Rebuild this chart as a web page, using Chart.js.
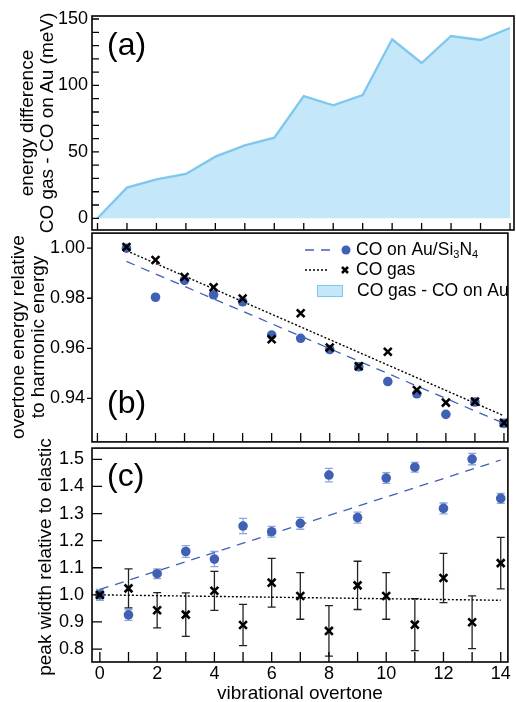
<!DOCTYPE html>
<html>
<head>
<meta charset="utf-8">
<script src="https://cdn.jsdelivr.net/npm/chart.js@4.4.1/dist/chart.umd.min.js"></script>
<style>
  body { margin: 0; background: #fff; }
  #wrap { position: relative; width: 516px; height: 702px; overflow: hidden; }
  canvas { position: absolute; left: 0; }
  .ytitle {
    position: absolute;
    font: 19px "Liberation Sans", Arial, Helvetica, sans-serif;
    line-height: 20px;
    color: #000;
    text-align: center;
    white-space: nowrap;
    transform: translate(-50%, -50%) rotate(-90deg);
  }
</style>
</head>
<body>
<div id="wrap">
  <canvas id="chartA" width="516" height="232" style="top:0px"></canvas>
  <canvas id="chartB" width="516" height="225" style="top:225px"></canvas>
  <canvas id="chartC" width="516" height="262" style="top:440px"></canvas>
  <div class="ytitle" style="left:37px; top:123px">energy difference<br>CO gas - CO on Au (meV)</div>
  <div class="ytitle" style="left:28px; top:337px">overtone energy relative<br>to harmonic energy</div>
  <div class="ytitle" style="left:45px; top:557px">peak width relative to elastic</div>
</div>
<script>
// panel (a): energy difference gas - Au
const overtoneA = [0, 1, 2, 3, 4, 5, 6, 7, 8, 9, 10, 11, 12, 13, 14]
const energyDiff = [0, 23.1, 29.3, 33.4, 46.4, 54.9, 60.7, 92.0, 85.0, 92.8, 134.7, 116.9, 137.2, 134.2, 143.2]

// panel (b): overtone energy / harmonic energy
const overtoneB = [1, 2, 3, 4, 5, 6, 7, 8, 9, 10, 11, 12, 13, 14]
const ratioAu = [1.000, 0.9804, 0.9872, 0.9814, 0.9786, 0.9653, 0.9640, 0.9595, 0.9526, 0.9467, 0.9418, 0.9336, 0.9385, 0.9300]
const ratioGas = [1.0005, 0.9953, 0.9885, 0.9844, 0.9799, 0.9636, 0.9740, 0.9603, 0.9528, 0.9586, 0.9433, 0.9383, 0.9387, 0.9302]
const fitXB = [1, 14]
const fitAuB = [0.9947, 0.9300]
const fitGasB = [0.9990, 0.9330]

// panel (c): peak width / elastic
const overtoneC = [0, 1, 2, 3, 4, 5, 6, 7, 8, 9, 10, 11, 12, 13, 14]
const widthAu = [1.000, 0.926, 1.078, 1.160, 1.132, 1.254, 1.233, 1.264, 1.442, 1.285, 1.431, 1.471, 1.319, 1.501, 1.356]
const errAu = [0.02, 0.02, 0.018, 0.022, 0.028, 0.028, 0.02, 0.022, 0.025, 0.02, 0.02, 0.018, 0.02, 0.021, 0.018]
const widthGas = [1.000, 1.024, 0.943, 0.927, 1.015, 0.889, 1.045, 0.996, 0.867, 1.035, 0.996, 0.890, 1.062, 0.899, 1.117]
const errGas = [0.012, 0.072, 0.065, 0.08, 0.072, 0.076, 0.09, 0.086, 0.093, 0.089, 0.086, 0.096, 0.091, 0.097, 0.095]
const fitXC = [0, 14]
const fitAuC = [1.020, 1.4976]
const fitGasC = [1.000, 0.980]

const FONT = '"Liberation Sans", Arial, Helvetica, sans-serif'
const BLUE = 'rgb(64, 96, 180)'
const BLUE_ERR = 'rgb(140, 165, 220)'
const FILL = 'rgb(196, 231, 249)'
const FILL_LINE = 'rgb(128, 199, 238)'

Chart.defaults.font.family = FONT
Chart.defaults.color = '#000'

const pts = (xs, ys) => xs.map((x, i) => ({ x: x, y: ys[i] }))

// frame box, inside/outside tick marks and the panel letter
const framePlugin = {
  id: 'frame',
  afterDraw(chart, args, opts) {
    const { ctx, chartArea: a, scales } = chart
    ctx.save()
    ctx.strokeStyle = '#000'
    ctx.lineWidth = 1.3
    ctx.beginPath()
    scales.x.ticks.forEach(t => {
      const px = scales.x.getPixelForValue(t.value)
      ctx.moveTo(px, a.bottom)
      ctx.lineTo(px, a.bottom - opts.xTick)
    })
    scales.y.ticks.forEach(t => {
      const py = scales.y.getPixelForValue(t.value)
      ctx.moveTo(a.left, py)
      ctx.lineTo(a.left + (opts.yOut ? -opts.yTick : opts.yTick), py)
    })
    ctx.stroke()
    ctx.lineWidth = 1.6
    ctx.strokeRect(a.left, a.top, a.right - a.left, a.bottom - a.top)
    ctx.fillStyle = '#000'
    ctx.font = '32px ' + FONT
    ctx.textBaseline = 'middle'
    ctx.fillText(opts.label, a.left + 15, opts.labelY)
    ctx.restore()
  }
}

function xAxis(min, max) {
  return {
    type: 'linear', min: min, max: max,
    grid: { display: false, drawTicks: false },
    border: { display: false },
    ticks: { display: false, stepSize: 1, includeBounds: false, autoSkip: false },
    afterFit(s) { s.height = 0; s.paddingLeft = 0; s.paddingRight = 0 }
  }
}

function yAxis(min, max, step, fmt, tickPad) {
  return {
    type: 'linear', min: min, max: max,
    grid: { display: false, drawTicks: false },
    border: { display: false },
    ticks: { stepSize: step, includeBounds: false, autoSkip: false, padding: tickPad, font: { size: 18 }, callback: fmt },
    afterFit(s) { s.width = 92; s.paddingTop = 0; s.paddingBottom = 0 }
  }
}

const common = {
  responsive: false,
  animation: false,
  devicePixelRatio: 1,
}

// (a)
new Chart(document.getElementById('chartA'), {
  type: 'line',
  data: {
    datasets: [{
      data: pts(overtoneA, energyDiff),
      fill: 'origin',
      backgroundColor: FILL,
      borderColor: FILL_LINE,
      borderWidth: 2.3,
      pointRadius: 0,
      tension: 0
    }]
  },
  options: {
    ...common,
    layout: { padding: { top: 16, bottom: 2, left: 0, right: 2 } },
    plugins: {
      legend: { display: false }, tooltip: { enabled: false },
      frame: { xTick: 7, yTick: 7, yOut: false, label: '(a)', labelY: 46 }
    },
    scales: {
      x: xAxis(-0.187, 14.136),
      y: yAxis(-8.8, 152.26, 10, v => (v % 50 === 0 ? v : ''), 4)
    }
  },
  plugins: [framePlugin]
})

// legend inside panel (b)
const legendPlugin = {
  id: 'insideLegend',
  afterDraw(chart) {
    const ctx = chart.ctx
    ctx.save()
    ctx.textBaseline = 'middle'
    ctx.fillStyle = '#000'
    const f = '17.5px ' + FONT
    const fs = '11px ' + FONT
    // row 1: CO on Au/Si3N4
    ctx.strokeStyle = BLUE
    ctx.lineWidth = 1.3
    ctx.setLineDash([9, 7])
    ctx.beginPath(); ctx.moveTo(305, 25); ctx.lineTo(332, 25); ctx.stroke()
    ctx.setLineDash([])
    ctx.fillStyle = BLUE
    ctx.beginPath(); ctx.arc(346, 25, 4.5, 0, Math.PI * 2); ctx.fill()
    ctx.fillStyle = '#000'
    let x = 356
    const parts = [['CO on Au/Si', f, 0], ['3', fs, 5], ['N', f, 0], ['4', fs, 5]]
    parts.forEach(p => {
      ctx.font = p[1]
      ctx.fillText(p[0], x, 25 + p[2])
      x += ctx.measureText(p[0]).width
    })
    // row 2: CO gas
    ctx.strokeStyle = '#000'
    ctx.lineWidth = 1.4
    ctx.setLineDash([2, 2])
    ctx.beginPath(); ctx.moveTo(305, 45); ctx.lineTo(329, 45); ctx.stroke()
    ctx.setLineDash([])
    ctx.lineWidth = 2.5
    ctx.beginPath()
    ctx.moveTo(342, 42); ctx.lineTo(348, 48)
    ctx.moveTo(348, 42); ctx.lineTo(342, 48)
    ctx.stroke()
    ctx.font = f
    ctx.fillText('CO gas', 356, 45)
    // row 3: filled difference
    ctx.fillStyle = FILL
    ctx.fillRect(317, 60, 26, 12)
    ctx.strokeStyle = FILL_LINE
    ctx.lineWidth = 1
    ctx.strokeRect(317.5, 60.5, 25, 11)
    ctx.fillStyle = '#000'
    ctx.fillText('CO gas - CO on Au', 357, 66)
    ctx.restore()
  }
}

// (b)
new Chart(document.getElementById('chartB'), {
  type: 'scatter',
  data: {
    datasets: [
      { data: pts(overtoneB, ratioGas), pointStyle: 'crossRot', pointRadius: 5.5, borderColor: '#000', borderWidth: 2.6 },
      { data: pts(overtoneB, ratioAu), pointStyle: 'circle', pointRadius: 4.8, backgroundColor: BLUE, borderWidth: 0 },
      { data: pts(fitXB, fitGasB), showLine: true, pointRadius: 0, borderColor: '#000', borderWidth: 1.4, borderDash: [2, 2] },
      { data: pts(fitXB, fitAuB), showLine: true, pointRadius: 0, borderColor: BLUE, borderWidth: 1.3, borderDash: [9, 7] }
    ]
  },
  options: {
    ...common,
    layout: { padding: { top: 5, bottom: 3, left: 0, right: 2 } },
    plugins: {
      legend: { display: false }, tooltip: { enabled: false },
      frame: { xTick: 9, yTick: 5, yOut: true, label: '(b)', labelY: 179 }
    },
    scales: {
      x: xAxis(-0.187, 14.136),
      y: yAxis(0.92258, 1.00604, 0.02, v => v.toFixed(2), 7)
    }
  },
  plugins: [framePlugin, legendPlugin]
})

// error bars for panel (c)
const errorBarPlugin = {
  id: 'errorBars',
  beforeDatasetsDraw(chart) {
    const { ctx, scales: { x, y } } = chart
    const sets = [
      { ys: widthAu, err: errAu, color: BLUE_ERR },
      { ys: widthGas, err: errGas, color: '#222' }
    ]
    ctx.save()
    ctx.lineWidth = 1.3
    sets.forEach(s => {
      ctx.strokeStyle = s.color
      ctx.beginPath()
      s.ys.forEach((v, i) => {
        const px = x.getPixelForValue(overtoneC[i])
        const top = y.getPixelForValue(v + s.err[i])
        const bot = y.getPixelForValue(v - s.err[i])
        ctx.moveTo(px, top); ctx.lineTo(px, bot)
        ctx.moveTo(px - 4, top); ctx.lineTo(px + 4, top)
        ctx.moveTo(px - 4, bot); ctx.lineTo(px + 4, bot)
      })
      ctx.stroke()
    })
    ctx.restore()
  }
}

// (c)
new Chart(document.getElementById('chartC'), {
  type: 'scatter',
  data: {
    datasets: [
      { data: pts(overtoneC, widthGas), pointStyle: 'crossRot', pointRadius: 5.5, borderColor: '#000', borderWidth: 2.6 },
      { data: pts(overtoneC, widthAu), pointStyle: 'circle', pointRadius: 4.8, backgroundColor: BLUE, borderWidth: 0 },
      { data: pts(fitXC, fitGasC), showLine: true, pointRadius: 0, borderColor: '#000', borderWidth: 1.4, borderDash: [2, 2] },
      { data: pts(fitXC, fitAuC), showLine: true, pointRadius: 0, borderColor: BLUE, borderWidth: 1.3, borderDash: [9, 7] }
    ]
  },
  options: {
    ...common,
    layout: { padding: { top: 7, bottom: 0, left: 0, right: 2 } },
    plugins: {
      legend: { display: false }, tooltip: { enabled: false },
      frame: { xTick: 10, yTick: 10, yOut: false, label: '(c)', labelY: 37 }
    },
    scales: {
      x: {
        type: 'linear', min: -0.275, max: 14.25,
        grid: { display: false, drawTicks: false },
        border: { display: false },
        ticks: { stepSize: 1, includeBounds: false, autoSkip: false, maxRotation: 0, padding: 1,
          font: { size: 18 }, callback: v => (v % 2 === 0 ? v : '') },
        title: { display: true, text: 'vibrational overtone', font: { size: 19, lineHeight: 0.9 }, padding: 0 },
        afterFit(s) { s.height = 40; s.paddingLeft = 0; s.paddingRight = 0 }
      },
      y: yAxis(0.7523, 1.5415, 0.1, v => v.toFixed(1), 8)
    }
  },
  plugins: [framePlugin, errorBarPlugin]
})
</script>
</body>
</html>
